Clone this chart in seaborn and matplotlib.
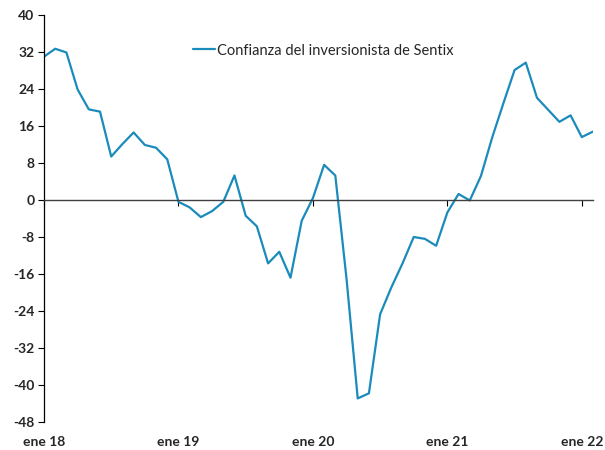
import numpy as np
import pandas as pd
import matplotlib
matplotlib.use("Agg")
import matplotlib.pyplot as plt
import seaborn as sns

# Sentix investor confidence, monthly (Dec 2017 .. Jan 2022)
sentix = [31.0, 32.7, 31.9, 23.9, 19.6, 19.1, 9.4, 12.1, 14.6, 11.9, 11.3, 8.8,
          -0.4, -1.6, -3.7, -2.4, -0.4, 5.3, -3.4, -5.7, -13.7, -11.2, -16.8, -4.5,
          0.4, 7.6, 5.3, -17.0, -42.9, -41.8, -24.7, -18.9, -13.7, -8.0, -8.4, -9.9,
          -2.7, 1.3, -0.1, 5.2, 13.5, 20.9, 28.1, 29.7, 22.1, 19.5, 16.9, 18.3,
          13.6, 14.8]
tick_pos = [0, 12, 24, 36, 48]
tick_labels = ["ene 18", "ene 19", "ene 20", "ene 21", "ene 22"]
y_ticks = list(range(-48, 41, 8))
series_name = "Confianza del inversionista de Sentix"

df = pd.DataFrame({"idx": np.arange(len(sentix)), "valor": sentix})

sns.set_style("white")
plt.rcParams["font.family"] = ["Lato", "DejaVu Sans"]

fig = plt.figure(figsize=(6.05, 4.5), dpi=100)
ax = fig.add_axes([44 / 605, 28 / 450, 549 / 605, 407 / 450])

sns.lineplot(data=df, x="idx", y="valor", ax=ax, color="#1A8BBA",
             linewidth=1.6, label=series_name)

ax.set_xlim(0, len(sentix) - 1)
ax.set_ylim(-48, 40)
ax.set_xlabel("")
ax.set_ylabel("")

# y axis
ax.set_yticks(y_ticks)
ax.set_yticklabels([str(v) for v in y_ticks], fontsize=10, fontweight="bold")
ax.tick_params(axis="y", direction="out", length=4, width=0.8, color="black",
               pad=3, left=True)
for s in ["top", "right"]:
    ax.spines[s].set_visible(False)
ax.spines["left"].set_color("black")
ax.spines["left"].set_linewidth(0.9)

# x axis drawn at zero, labels at the bottom
ax.spines["bottom"].set_position(("data", 0))
ax.spines["bottom"].set_color("#404040")
ax.spines["bottom"].set_linewidth(1.0)
ax.set_xticks(tick_pos)
ax.set_xticklabels([])
ax.tick_params(axis="x", direction="out", length=4, width=0.8, color="black",
               bottom=True)

sec = ax.secondary_xaxis(0)
sec.set_xticks(tick_pos)
sec.set_xticklabels(tick_labels, fontsize=10, fontweight="bold")
sec.tick_params(length=0, pad=10)
sec.spines["bottom"].set_visible(False)

leg = ax.legend(loc="upper left", bbox_to_anchor=(0.248, 0.962), frameon=False,
                fontsize=10.5, handlelength=1.5, handletextpad=0.15)

fig.savefig("out.png", dpi=100)
